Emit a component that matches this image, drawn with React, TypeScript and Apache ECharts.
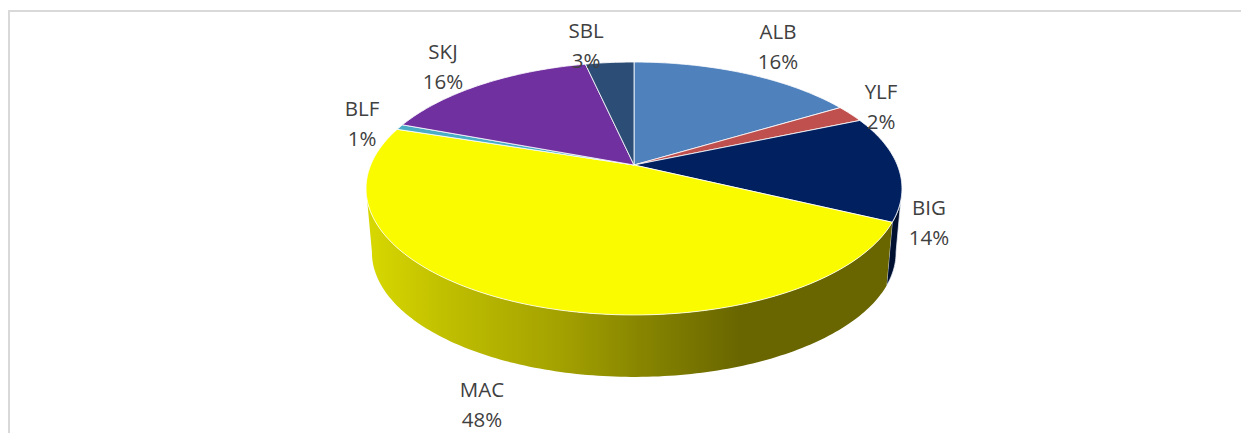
import React, { useEffect, useRef } from "react";
import * as echarts from "echarts";

const categories = ["ALB", "YLF", "BIG", "MAC", "BLF", "SKJ", "SBL"];
const shares = [16.4, 2.2, 13.5, 47.9, 0.7, 15.8, 3.5];
const percentLabels = ["16%", "2%", "14%", "48%", "1%", "16%", "3%"];
const topColors = ["#4f81bd", "#c0504d", "#002060", "#fbfb00", "#4bacc6", "#7030a0", "#2c4d75"];
const wallColors = ["#3b618e", "#90403a", "#001030", "#696600", "#38819a", "#542478", "#213a58"];
const labelCenters = [
  [778, 45.5],
  [881, 105.5],
  [929, 222],
  [482, 403.5],
  [362, 123],
  [443, 65.5],
  [586, 44.5],
];

const W = 1241;
const H = 433;
const CX = 634;
const APEX_Y = 165;
const K = 0.1858;
const A = 263.3;
const B = 122.1;
const TOP_CY = 188;
const BOT_CY = 252;
const BOT_SX = 0.978;
const BOT_SY = 0.984;
const WALL_FROM = (100.5 * Math.PI) / 180;
const WALL_TO = (259.5 * Math.PI) / 180;

const total = shares.reduce((a, b) => a + b, 0);
const starts: number[] = [];
shares.reduce((acc, v, i) => {
  starts[i] = acc;
  return acc + v;
}, 0);

function topPoint(theta: number): [number, number] {
  const u = Math.sin(theta);
  const v = -Math.cos(theta);
  const w = 1 - K * v;
  return [CX + (A * u) / w, APEX_Y + (B * v) / w];
}
function bottomPoint(theta: number): [number, number] {
  const [x, y] = topPoint(theta);
  return [CX + BOT_SX * (x - CX), BOT_CY + BOT_SY * (y - TOP_CY)];
}
function sliceAngles(i: number): [number, number] {
  return [(starts[i] / total) * Math.PI * 2, ((starts[i] + shares[i]) / total) * Math.PI * 2];
}
function arcPoints(a0: number, a1: number, fn: (t: number) => [number, number]) {
  const n = Math.max(2, Math.ceil((a1 - a0) / (Math.PI / 180)));
  const pts: [number, number][] = [];
  for (let s = 0; s <= n; s++) pts.push(fn(a0 + ((a1 - a0) * s) / n));
  return pts;
}

const macWallFill = {
  type: "linear",
  x: 367,
  y: 0,
  x2: 740,
  y2: 0,
  global: true,
  colorStops: [
    { offset: 0, color: "#d8d800" },
    { offset: 0.22, color: "#bfbe00" },
    { offset: 0.52, color: "#a3a100" },
    { offset: 0.73, color: "#888600" },
    { offset: 1, color: "#696600" },
  ],
};

const data = shares.map((v, i) => ({ value: v, name: categories[i] }));

export default function App() {
  const ref = useRef<HTMLDivElement>(null);
  useEffect(() => {
    const chart = echarts.init(ref.current!, null, { renderer: "svg" });
    chart.setOption({
      animation: false,
      backgroundColor: "#fff",
      graphic: [
        { type: "line", silent: true, shape: { x1: 8, y1: 11, x2: W, y2: 11 }, style: { stroke: "#d9d9d9", lineWidth: 2 } },
        { type: "line", silent: true, shape: { x1: 9, y1: 10, x2: 9, y2: H }, style: { stroke: "#d9d9d9", lineWidth: 2 } },
      ],
      series: [
        {
          type: "custom",
          coordinateSystem: "none",
          silent: true,
          z: 1,
          data,
          renderItem: (params: any) => {
            const i = params.dataIndex;
            const [a0, a1] = sliceAngles(i);
            const from = Math.max(a0, WALL_FROM);
            const to = Math.min(a1, WALL_TO);
            if (to <= from) return undefined;
            const pts = [...arcPoints(from, to, topPoint), ...arcPoints(from, to, bottomPoint).reverse()];
            return {
              type: "polygon",
              shape: { points: pts },
              style: {
                fill: categories[i] === "MAC" ? macWallFill : wallColors[i],
                stroke: categories[i] === "MAC" ? "transparent" : "rgba(235,240,250,0.75)",
                lineWidth: 1,
              },
            };
          },
        },
        {
          type: "custom",
          coordinateSystem: "none",
          silent: true,
          z: 2,
          data,
          renderItem: (params: any) => {
            const i = params.dataIndex;
            const [a0, a1] = sliceAngles(i);
            const pts = [[CX, APEX_Y], ...arcPoints(a0, a1, topPoint)];
            return {
              type: "polygon",
              shape: { points: pts },
              style: { fill: topColors[i], stroke: "rgba(255,255,255,0.8)", lineWidth: 1 },
            };
          },
        },
        {
          type: "custom",
          coordinateSystem: "none",
          silent: true,
          z: 3,
          data,
          renderItem: (params: any) => {
            const i = params.dataIndex;
            return {
              type: "text",
              x: labelCenters[i][0],
              y: labelCenters[i][1],
              style: {
                text: `${categories[i]}\n${percentLabels[i]}`,
                fill: "#404040",
                font: '20.5px "Open Sans"',
                lineHeight: 30,
                align: "center",
                verticalAlign: "middle",
              },
            };
          },
        },
      ],
    });
    return () => chart.dispose();
  }, []);
  return <div ref={ref} style={{ position: "absolute", left: 0, top: 0, width: W, height: H }} />;
}
